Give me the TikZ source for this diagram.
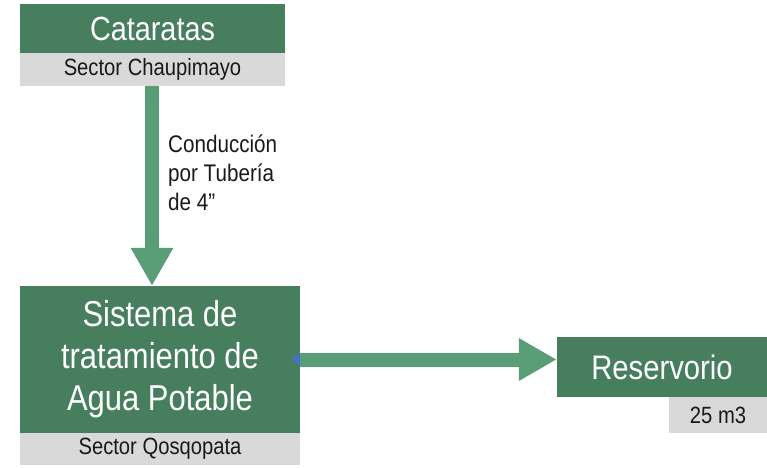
\documentclass[tikz,border=0pt]{standalone}
\usepackage{fontspec}
\setmainfont{Liberation Sans}[FakeStretch=0.86]
\usetikzlibrary{arrows.meta}
\definecolor{boxgreen}{HTML}{467E5E}
\definecolor{arrgreen}{HTML}{5A9E78}
\definecolor{subgray}{HTML}{D9D9D9}
\definecolor{tipblue}{HTML}{4472C4}
\tikzset{
  mainbox/.style={fill=boxgreen, text=white, inner sep=0pt, align=center,
    font=\fontsize{34}{42}\selectfont},
  subbox/.style={fill=subgray, text=black!90, inner sep=0pt,
    font=\fontsize{23.5}{28}\selectfont},
  bigarrow/.style={draw=arrgreen, line width=14pt,
    -{Triangle[width=40pt,length=38pt,color=arrgreen]}},
}
\begin{document}
\begin{tikzpicture}[x=1pt,y=-1pt]
\useasboundingbox (0,0) rectangle (767,467);
% top block
\node[mainbox, minimum width=265pt, minimum height=49pt,
  font=\fontsize{33.5}{40}\selectfont] (cat) at (152.5,28.5) {Cataratas};
\node[subbox, minimum width=265pt, minimum height=33pt] (catsub) at (152.5,69.5) {Sector Chaupimayo};
% treatment block
\node[mainbox, minimum width=280pt, minimum height=147pt,
  font=\fontsize{36}{42}\selectfont] (sis) at (160,359.5)
  {Sistema de\\tratamiento de\\Agua Potable};
\node[subbox, minimum width=280pt, minimum height=32pt] (sissub) at (160,449) {Sector Qosqopata};
% reservoir
\node[mainbox, minimum width=210pt, minimum height=60pt] (res) at (662,367) {Reservorio};
\node[subbox, minimum width=98pt, minimum height=36pt] (ressub) at (718,415) {25 m3};
% arrows
\draw[bigarrow] (catsub.south -| 152,0) -- (sis.north -| 152,0);
\node[anchor=north west, align=left, inner sep=0pt, text=black!90,
  font=\fontsize{24}{29}\selectfont] (lbl) at (168,135)
  {Conducción\\por Tubería\\de 4”};
\draw[bigarrow] (sis.east) -- (sis.east -| res.west);
\fill[tipblue] (sis.east) ++(0,-7) -- ++(-9,7) -- ++(9,7) -- cycle;
\end{tikzpicture}
\end{document}
